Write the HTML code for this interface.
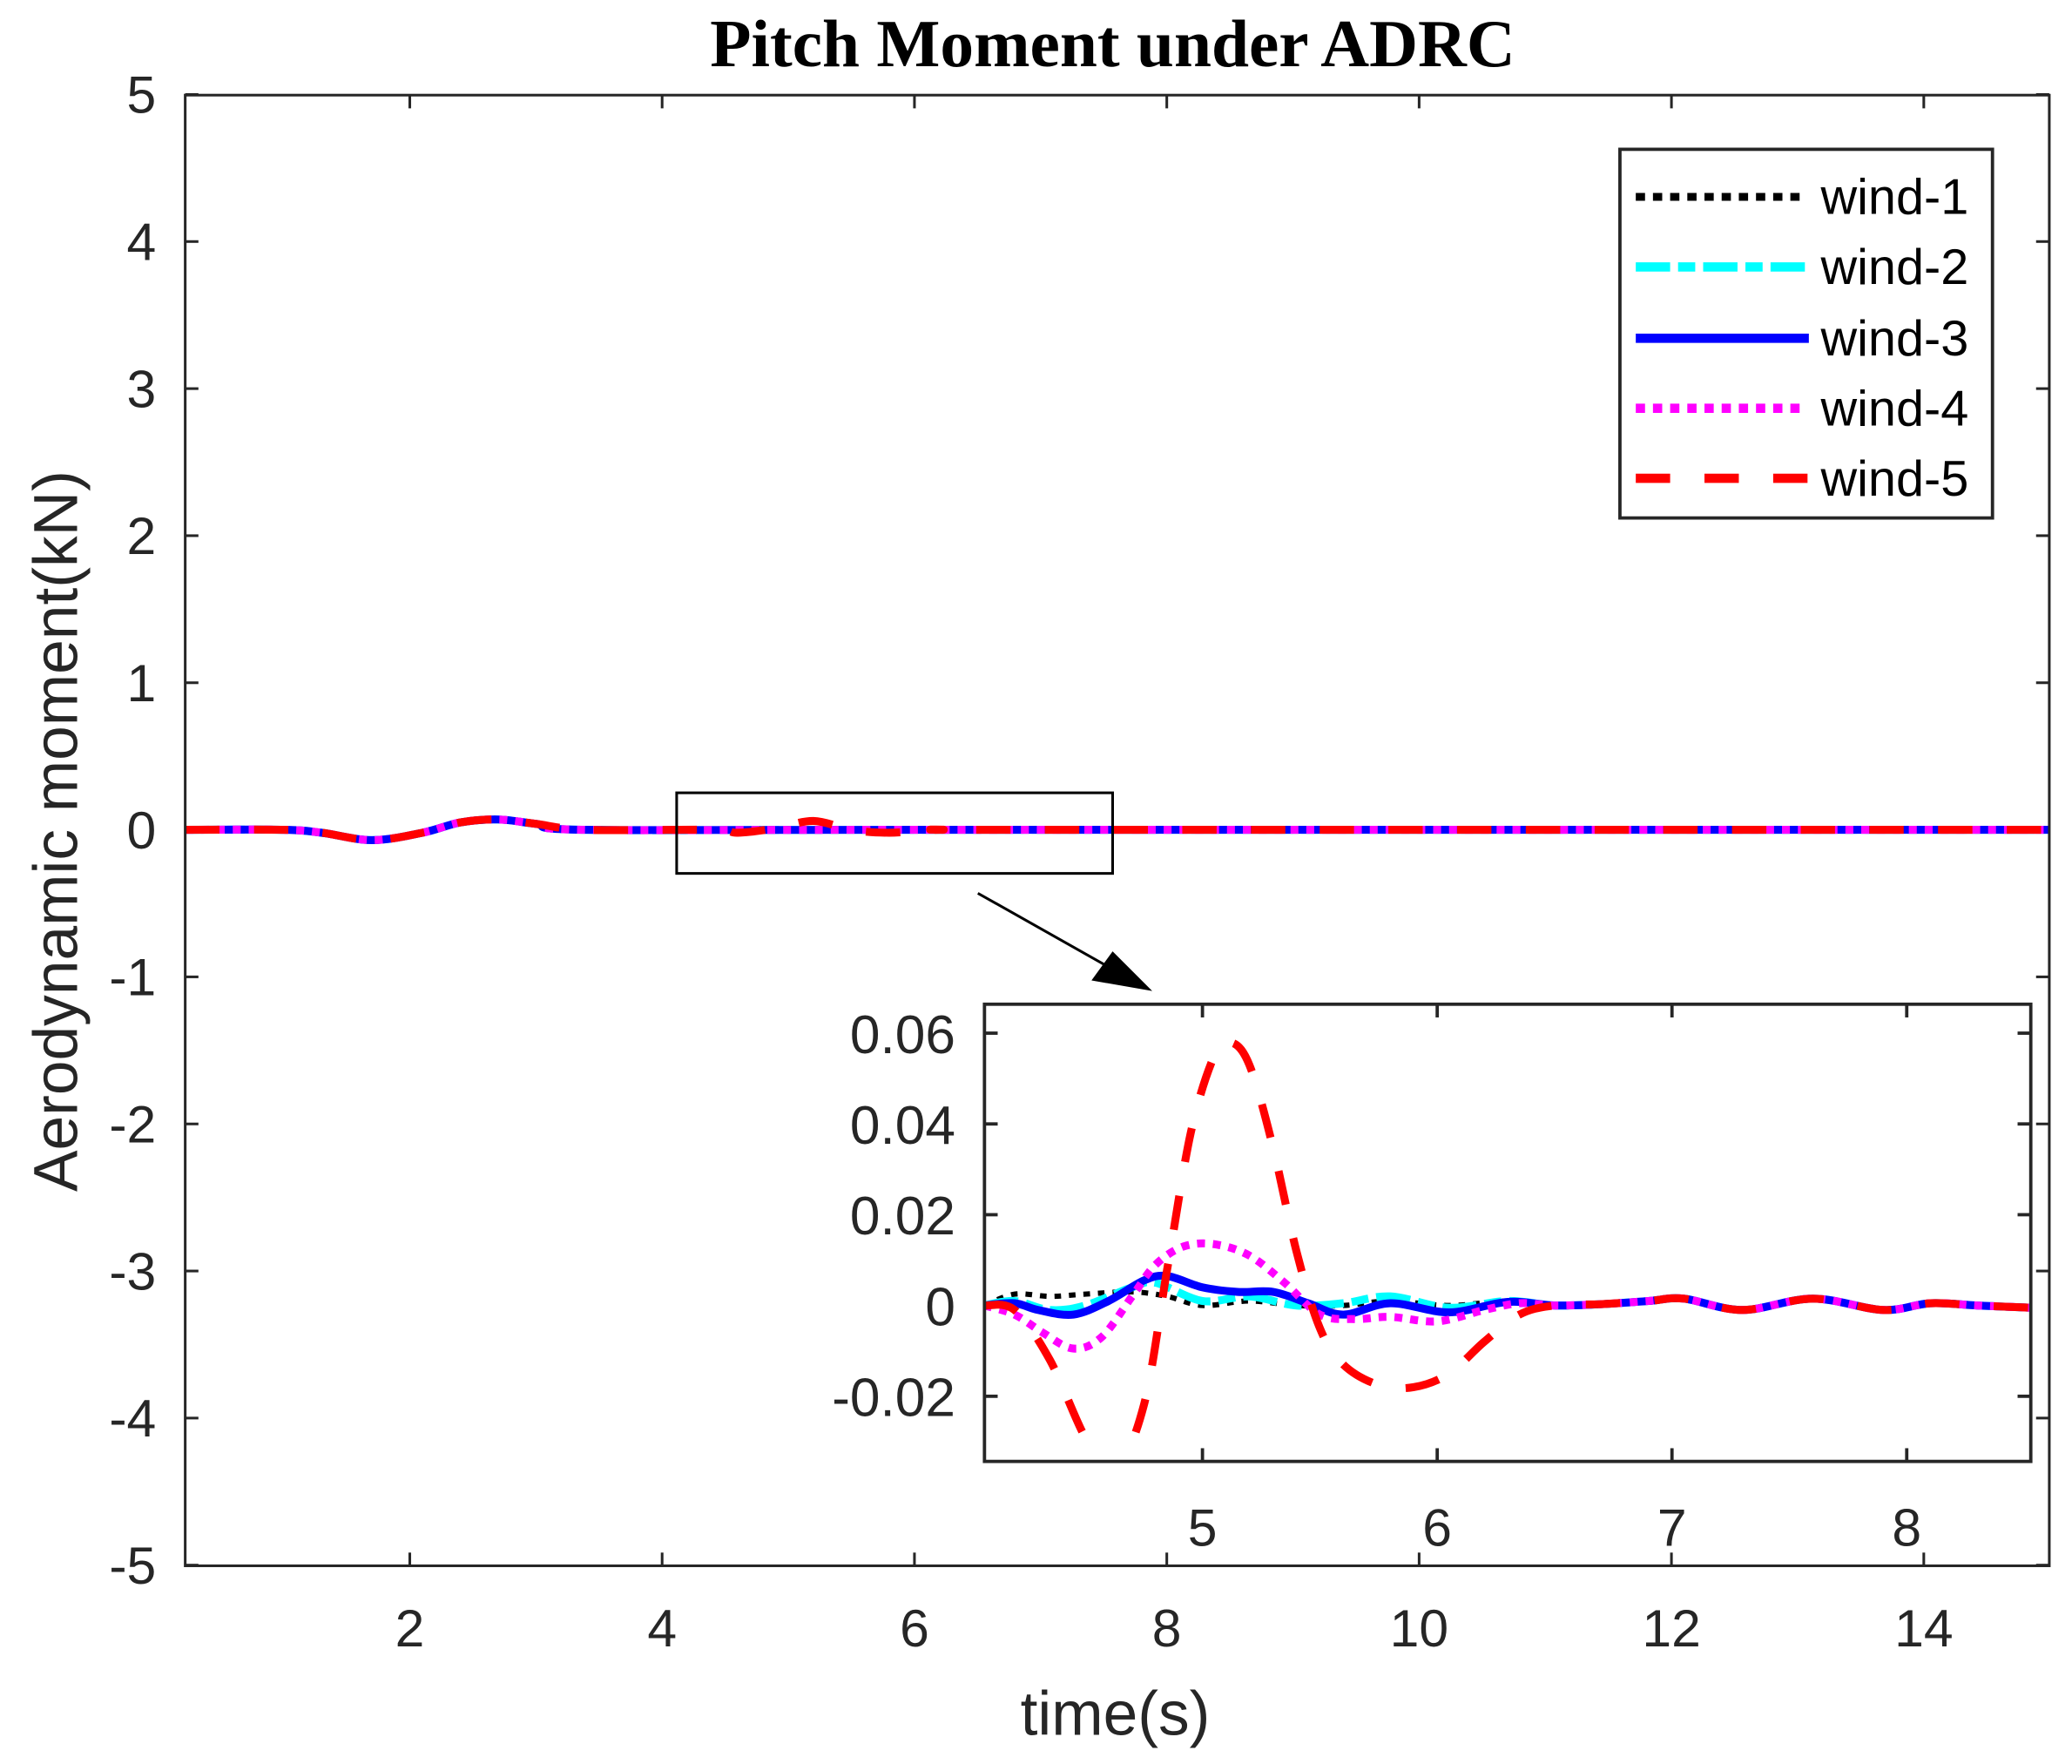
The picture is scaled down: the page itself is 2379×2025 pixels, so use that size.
<!DOCTYPE html>
<html><head><meta charset="utf-8"><style>
html,body{margin:0;padding:0;background:#fff;}
svg{display:block;}
text{font-family:"Liberation Sans",Arial,sans-serif;fill:#262626;}
</style></head><body>
<svg id="s" xmlns="http://www.w3.org/2000/svg" width="2379" height="2025" viewBox="0 0 1568 1335">
<defs>
<clipPath id="cm"><rect x="140" y="72" width="1411" height="1113"/></clipPath>
<clipPath id="ci"><rect x="745" y="760" width="792" height="346"/></clipPath>
</defs>
<rect width="1568" height="1335" fill="#fff"/>
<text x="842" y="50" text-anchor="middle" style="font-family:'Liberation Serif',serif;font-weight:bold;font-size:51px;fill:#000">Pitch Moment under ADRC</text>
<g id="main"></g>
<rect x="140" y="72" width="1411" height="1113" fill="none" stroke="#262626" stroke-width="2"/>
<text transform="translate(58,629) rotate(-90)" text-anchor="middle" font-size="47">Aerodynamic moment(kN)</text>
<text x="844" y="1313" text-anchor="middle" font-size="47">time(s)</text>
<rect x="512" y="600" width="330" height="61" fill="none" stroke="#000" stroke-width="2"/>
<line x1="740" y1="676" x2="850" y2="738" stroke="#000" stroke-width="2"/>
<polygon points="872,750 826,742 842,720" fill="#000"/>
<rect x="745" y="760" width="792" height="346" fill="#fff"/>
<g id="inset"></g>
<rect x="745" y="760" width="792" height="346" fill="none" stroke="#262626" stroke-width="2.5"/>
<rect x="1226" y="113" width="282" height="279" fill="#fff" stroke="#262626" stroke-width="2.5"/>
<g font-size="38">
<line x1="1238" y1="149" x2="1366" y2="149" stroke="#000" stroke-width="6" stroke-dasharray="7,6"/>
<text x="1378" y="162" style="fill:#000">wind-1</text>
<line x1="1238" y1="202" x2="1369" y2="202" stroke="#0ff" stroke-width="7" stroke-dasharray="26,6,13,6"/>
<text x="1378" y="215" style="fill:#000">wind-2</text>
<line x1="1238" y1="256" x2="1369" y2="256" stroke="#00f" stroke-width="7"/>
<text x="1378" y="269" style="fill:#000">wind-3</text>
<line x1="1238" y1="309" x2="1366" y2="309" stroke="#f0f" stroke-width="7" stroke-dasharray="7,6"/>
<text x="1378" y="322" style="fill:#000">wind-4</text>
<line x1="1238" y1="362" x2="1369" y2="362" stroke="#f00" stroke-width="7" stroke-dasharray="26,26"/>
<text x="1378" y="375" style="fill:#000">wind-5</text>
</g>
</svg>
<script>
var NS="http://www.w3.org/2000/svg";
function el(p,n,a,t){var e=document.createElementNS(NS,n);for(var k in a)e.setAttribute(k,a[k]);if(t!==undefined)e.textContent=t;p.appendChild(e);return e;}
function crPath(pts){var d="M"+pts[0][0].toFixed(1)+","+pts[0][1].toFixed(1);
for(var i=0;i<pts.length-1;i++){var p0=pts[i-1]||pts[i],p1=pts[i],p2=pts[i+1],p3=pts[i+2]||p2;
var c1x=p1[0]+(p2[0]-p0[0])/6,c1y=p1[1]+(p2[1]-p0[1])/6,c2x=p2[0]-(p3[0]-p1[0])/6,c2y=p2[1]-(p3[1]-p1[1])/6;
d+=" C"+c1x.toFixed(1)+","+c1y.toFixed(1)+" "+c2x.toFixed(1)+","+c2y.toFixed(1)+" "+p2[0].toFixed(1)+","+p2[1].toFixed(1);}return d;}
var styles={k:{s:"#000",w:4,d:"5,6"},c:{s:"#0ff",w:6,d:"26,6,13,6"},b:{s:"#00f",w:6,d:""},m:{s:"#f0f",w:6,d:"6,6"},r:{s:"#f00",w:6,d:"26,26"}};
function draw(g,key,pts,X,Y,clip){var st=styles[key];var a={d:crPath(pts.map(function(p){return [X(p[0]),Y(p[1])];})),fill:"none",stroke:st.s,"stroke-width":st.w,"clip-path":"url(#"+clip+")"};if(st.d)a["stroke-dasharray"]=st.d;el(g,"path",a);}
var M=document.getElementById("main");
var MX=function(t){return 119+95.5*t;},MY=function(v){return 628-111.3*v;};
for(var v=-5;v<=5;v++){var y=MY(v);el(M,"line",{x1:140,y1:y,x2:150,y2:y,stroke:"#262626","stroke-width":2});el(M,"line",{x1:1541,y1:y,x2:1551,y2:y,stroke:"#262626","stroke-width":2});
el(M,"text",{x:118,y:y+14,"text-anchor":"end","font-size":40},String(v));}
for(var t=2;t<=14;t+=2){var x=MX(t);el(M,"line",{x1:x,y1:72,x2:x,y2:82,stroke:"#262626","stroke-width":2});el(M,"line",{x1:x,y1:1175,x2:x,y2:1185,stroke:"#262626","stroke-width":2});
el(M,"text",{x:x,y:1246,"text-anchor":"middle","font-size":40},String(t));}
var mp=[[0.22,0],[1.0,0],[1.3,-0.02],[1.7,-0.07],[2.1,-0.02],[2.4,0.05],[2.7,0.07],[3.0,0.04],[3.4,0],[4.4,0],[4.6,-0.02],[4.9,0.01],[5.2,0.06],[5.5,0],[5.8,-0.02],[6.2,0],[7,0],[15,0]];
var mp2=[[0.22,0],[1.0,0],[1.3,-0.02],[1.7,-0.07],[2.1,-0.02],[2.4,0.05],[2.7,0.07],[3.0,0.04],[3.4,0],[6,0],[15,0]];
["k","c","b","m"].forEach(function(k){draw(M,k,mp2,MX,MY,"cm");});
draw(M,"r",mp,MX,MY,"cm");
var I=document.getElementById("inset");
var IX=function(t){return 910+177.7*(t-5);},IY=function(v){return 988-3435*v;};
[0.06,0.04,0.02,0,-0.02].forEach(function(v){var y=IY(v);el(I,"line",{x1:745,y1:y,x2:755,y2:y,stroke:"#262626","stroke-width":2.5});el(I,"line",{x1:1527,y1:y,x2:1537,y2:y,stroke:"#262626","stroke-width":2.5});
el(I,"text",{x:723,y:y+15,"text-anchor":"end","font-size":41},v===0?"0":v.toFixed(2));});
[5,6,7,8].forEach(function(t){var x=IX(t);el(I,"line",{x1:x,y1:760,x2:x,y2:770,stroke:"#262626","stroke-width":2.5});el(I,"line",{x1:x,y1:1096,x2:x,y2:1106,stroke:"#262626","stroke-width":2.5});
el(I,"text",{x:x,y:1170,"text-anchor":"middle","font-size":40},String(t));});
var tail=[[6.5,0],[6.7,0.0003],[6.9,0.001],[7.05,0.0015],[7.3,-0.001],[7.6,0.0015],[7.9,-0.001],[8.1,0.0005],[8.3,0],[8.53,-0.0005]];
var red=[[4.07,0],[4.2,-0.001],[4.35,-0.012],[4.5,-0.029],[4.62,-0.037],[4.75,-0.022],[4.85,0.008],[4.95,0.038],[5.05,0.055],[5.12,0.058],[5.2,0.053],[5.3,0.035],[5.4,0.012],[5.5,-0.005],[5.6,-0.013],[5.75,-0.0175],[5.9,-0.018],[6.05,-0.015],[6.2,-0.008],[6.35,-0.002]].concat(tail);
var mag=[[4.07,0],[4.2,-0.002],[4.32,-0.006],[4.45,-0.0095],[4.57,-0.007],[4.7,0.002],[4.8,0.009],[4.92,0.013],[5.05,0.0135],[5.2,0.011],[5.35,0.005],[5.5,-0.002],[5.65,-0.003],[5.8,-0.0025],[6.0,-0.0035],[6.2,-0.001],[6.35,0.0005]].concat(tail);
var blu=[[4.07,0],[4.2,0.0005],[4.3,-0.001],[4.45,-0.002],[4.6,0.001],[4.75,0.0055],[4.85,0.0065],[5.0,0.004],[5.15,0.003],[5.3,0.003],[5.45,0.0005],[5.6,-0.002],[5.8,0.0005],[6.05,-0.0015],[6.3,0.0008],[6.5,0]].concat(tail.slice(1));
var cya=[[4.07,0],[4.2,0.001],[4.35,-0.001],[4.5,0],[4.7,0.004],[4.8,0.005],[5.0,0.001],[5.2,0.002],[5.4,0.0],[5.6,0.0005],[5.8,0.002],[6.05,-0.0005],[6.3,0.001],[6.5,0]].concat(tail.slice(1));
var blk=[[4.07,0],[4.2,0.0025],[4.35,0.002],[4.5,0.0025],[4.7,0.003],[4.85,0.002],[5.0,0.0],[5.2,0.001],[5.4,0.0],[5.6,0.0],[5.8,0.001],[6.05,0.0],[6.3,0.001],[6.5,0]].concat(tail.slice(1));
draw(I,"k",blk,IX,IY,"ci");draw(I,"c",cya,IX,IY,"ci");draw(I,"b",blu,IX,IY,"ci");draw(I,"m",mag,IX,IY,"ci");draw(I,"r",red,IX,IY,"ci");
</script>
</body></html>
